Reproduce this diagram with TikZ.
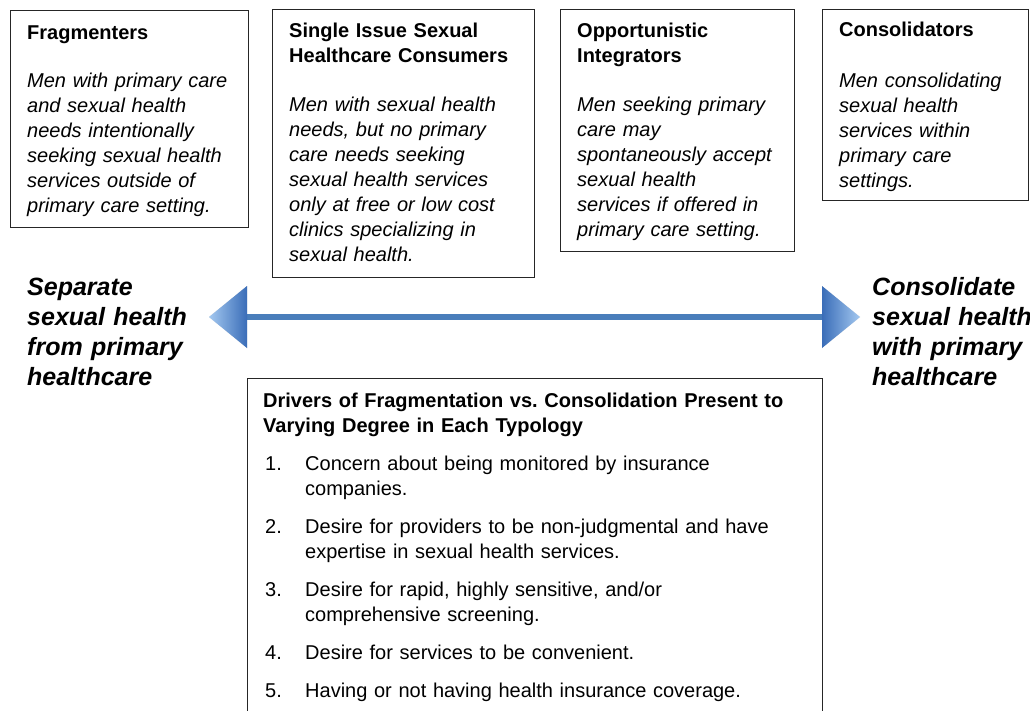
\documentclass[tikz,border=0pt]{standalone}
\usepackage{fontspec}
\setmainfont{Liberation Sans}
\frenchspacing
\definecolor{shaftblue}{HTML}{4A7EBB}
\definecolor{headdark}{HTML}{3A6DB8}
\definecolor{headlight}{HTML}{A3C8F0}
\begin{document}
\begin{tikzpicture}[x=1pt,y=-1pt,
  box/.style={draw=black!85, line width=1.3pt, inner sep=0pt, anchor=north west},
  ttl/.style={font=\fontsize{20}{25}\selectfont\bfseries, anchor=base west, inner sep=0pt, text width=250pt, align=left},
  bdy/.style={font=\fontsize{20}{25}\selectfont\itshape, anchor=base west, inner sep=0pt, text width=250pt, align=left},
  side/.style={font=\fontsize{25}{30}\selectfont\bfseries\itshape, anchor=base west, inner sep=0pt, text width=200pt, align=left},
  itm/.style={font=\fontsize{20}{25.5}\selectfont, anchor=base west, inner sep=0pt, text width=515pt, align=left},
  num/.style={font=\fontsize{20}{25}\selectfont, anchor=base west, inner sep=0pt},
  shaft/.style={draw=shaftblue, line width=6.5pt},
  hshadow/.style={fill=black, opacity=0.15}
]
\useasboundingbox (0,0) rectangle (1030,710);
\fill[white] (0,0) rectangle (1030,710);

% boxes
\node[box, minimum width=238.5pt, minimum height=217.5pt] (frag) at (9.5,9.5) {};
\node[box, minimum width=262pt, minimum height=268pt] (single) at (272,8.5) {};
\node[box, minimum width=234pt, minimum height=242pt] (opp) at (559.5,9) {};
\node[box, minimum width=206pt, minimum height=191.5pt] (cons) at (822,8.5) {};
\node[box, minimum width=575pt, minimum height=345pt] (drv) at (247,378) {};

% box texts
\node[ttl] (fragT) at (27,39) {Fragmenters};
\node[bdy] (fragB) at (27,87) {Men with primary care\\and sexual health\\needs intentionally\\seeking sexual health\\services outside of\\primary care setting.};

\node[ttl] (singT) at (289,37) {Single Issue Sexual\\Healthcare Consumers};
\node[bdy] (singB) at (289,111) {Men with sexual health\\needs, but no primary\\care needs seeking\\sexual health services\\only at free or low cost\\clinics specializing in\\sexual health.};

\node[ttl] (oppT) at (577,37) {Opportunistic\\Integrators};
\node[bdy] (oppB) at (577,111) {Men seeking primary\\care may\\spontaneously accept\\sexual health\\services if offered in\\primary care setting.};

\node[ttl] (consT) at (839,36.5) {Consolidators};
\node[bdy] (consB) at (839,87) {Men consolidating\\sexual health\\services within\\primary care\\settings.};

% side labels
\node[side] (sepL) at (27,295) {Separate\\sexual health\\from primary\\healthcare};
\node[side] (conL) at (872,295) {Consolidate\\sexual health\\with primary\\healthcare};

% arrow
\coordinate (aL) at (247,317);
\coordinate (aR) at (822,317);
\coordinate (aLt) at (247,286);
\coordinate (aLb) at (247,348);
\coordinate (aRt) at (822,286);
\coordinate (aRb) at (822,348);
\coordinate (tipL) at (209,317);
\coordinate (tipR) at (860,317);
\begin{scope}[shift={(2,3)}]
\fill[hshadow] (aLt) -- (tipL) -- (aLb) -- cycle;
\fill[hshadow] (aRt) -- (tipR) -- (aRb) -- cycle;
\end{scope}
\draw[shaft] (aL) -- (aR);
\shade[left color=headlight, right color=headdark] (aLt) -- (tipL) -- (aLb) -- cycle;
\shade[left color=headdark, right color=headlight] (aRt) -- (tipR) -- (aRb) -- cycle;

% drivers
\node[ttl, text width=540pt] (drvT) at (263,407) {Drivers of Fragmentation vs. Consolidation Present to\\Varying Degree in Each Typology};
\node[num] (n1) at (265,470) {1.};
\node[itm] (i1) at (305,470) {Concern about being monitored by insurance\\companies.};
\node[num] (n2) at (265,533) {2.};
\node[itm] (i2) at (305,533) {Desire for providers to be non-judgmental and have\\expertise in sexual health services.};
\node[num] (n3) at (265,596) {3.};
\node[itm] (i3) at (305,596) {Desire for rapid, highly sensitive, and/or\\comprehensive screening.};
\node[num] (n4) at (265,659) {4.};
\node[itm] (i4) at (305,659) {Desire for services to be convenient.};
\node[num] (n5) at (265,697) {5.};
\node[itm] (i5) at (305,697) {Having or not having health insurance coverage.};
\end{tikzpicture}
\end{document}
